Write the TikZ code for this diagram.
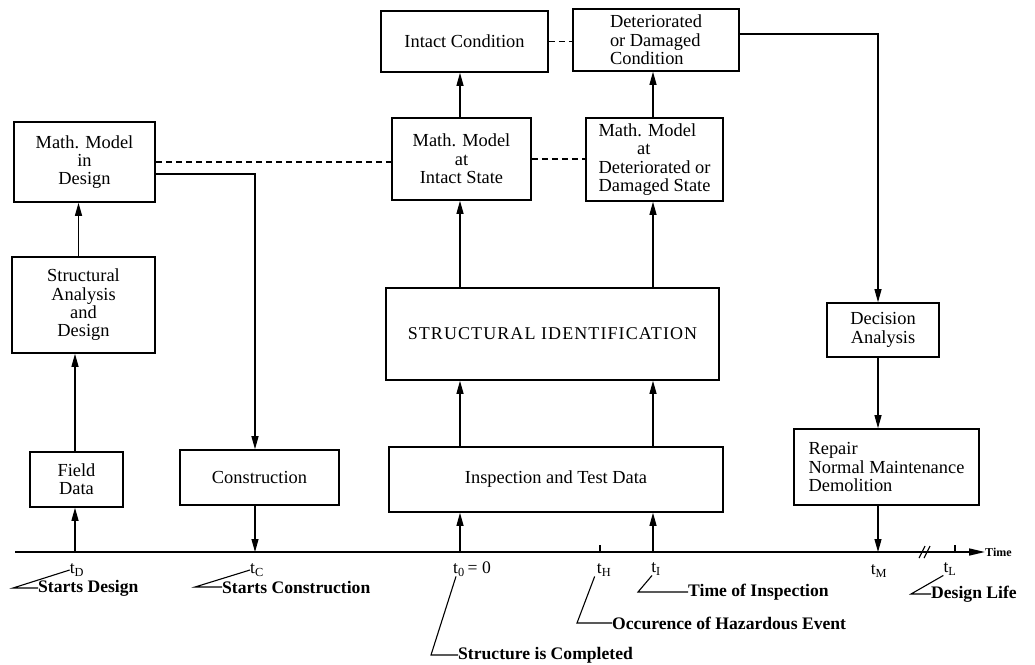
\documentclass[tikz,border=0pt]{standalone}
\usepackage{fontspec}
\setmainfont{Liberation Serif}
\usetikzlibrary{arrows.meta}

\begin{document}
\begin{tikzpicture}[x=1pt,y=-1pt,
    box/.style={draw, line width=1.6pt, inner sep=0pt, align=center,
      font=\fontsize{18.4}{18.3}\selectfont},
    arr/.style={line width=1.1pt, -{Triangle[length=13pt,width=7pt]}},
    link/.style={line width=1.1pt},
    dashlink/.style={line width=1.1pt, dash pattern=on 6pt off 4pt},
    lab/.style={inner sep=0pt, anchor=west, font=\fontsize{17.6}{18}\selectfont\bfseries},
    tlab/.style={inner sep=0pt, font=\fontsize{17.6}{18}\selectfont}]
  \def\axisy{552}

  \useasboundingbox (0,0) rectangle (1035,664);

  % boxes
  \node[box, minimum width=141pt, minimum height=80pt] (mdesign) at (84.5,162) {Math. Model\\in\\Design};
  \node[box, minimum width=143pt, minimum height=96pt] (sad) at (83.5,305) {Structural\\Analysis\\and\\Design};
  \node[box, minimum width=93pt, minimum height=55pt] (field) at (76.5,479.5) {Field\\Data};
  \node[box, minimum width=159pt, minimum height=55pt] (constr) at (259.5,477.5) {Construction};
  \node[box, minimum width=334pt, minimum height=65pt] (insp) at (556,479.5) {Inspection and Test Data};
  \node[box, minimum width=333pt, minimum height=92pt,
        font=\fontsize{18}{18}\selectfont\addfontfeature{LetterSpace=6}] (sid) at (552.5,334) {STRUCTURAL IDENTIFICATION};
  \node[box, minimum width=139pt, minimum height=82pt] (mintact) at (461.5,159) {Math. Model\\at\\Intact State};
  \node[box, minimum width=167pt, minimum height=61pt] (cintact) at (464.5,41.5) {Intact Condition};
  \node[box, minimum width=166pt, minimum height=62pt, align=left] (cdet) at (656,40) {Deteriorated\\or Damaged\\Condition};
  \node[box, minimum width=137pt, minimum height=83pt, align=left] (mdet) at (654.5,159.5) {Math. Model\\\hspace*{2.1em}at\\Deteriorated or\\Damaged State};
  \node[box, minimum width=112pt, minimum height=54pt] (decision) at (883,330) {Decision\\Analysis};
  \node[box, minimum width=185pt, minimum height=76pt, align=left] (repair) at (886.5,467) {Repair\\Normal Maintenance\\Demolition};

  % time axis
  \coordinate (origin) at (15,\axisy);
  \coordinate (tend) at (985,\axisy);
  \coordinate (pD) at (75,\axisy);
  \coordinate (pC) at (255,\axisy);
  \coordinate (p0) at (460,\axisy);
  \coordinate (pH) at (600,\axisy);
  \coordinate (pI) at (653,\axisy);
  \coordinate (pM) at (878,\axisy);
  \coordinate (pL) at (955,\axisy);
  \draw[line width=1.6pt, -{Triangle[length=16pt,width=7pt]}] (origin) -- (tend);
  \node[lab, font=\fontsize{12}{12}\selectfont\bfseries] (timelab) at (tend) {Time};
  \draw[link] (919,558) -- (925,546) (924,558) -- (930,546);
  \foreach \p in {pH,pL}
    \draw[link] (\p) -- ([yshift=7pt]\p);

  % arrows
  \draw[arr] (pD) -- (field.south -| pD);
  \draw[arr] (field.north -| pD) -- (sad.south -| pD);
  \draw[arr] ([xshift=-5pt]sad.north) -- ([xshift=-5pt]sad.north |- mdesign.south);
  \draw[arr] ([yshift=-12pt]mdesign.east) -| (constr.north -| pC);
  \draw[arr] (constr.south -| pC) -- (pC);
  \draw[dashlink] (mdesign.east) -- (mdesign.east -| mintact.west);
  \draw[dashlink] (mintact.east) -- (mintact.east -| mdet.west);
  \draw[dashlink] (cintact.east) -- (cintact.east -| cdet.west);
  \draw[arr] (p0) -- (insp.south -| p0);
  \draw[arr] (pI) -- (insp.south -| pI);
  \draw[arr] (insp.north -| p0) -- (sid.south -| p0);
  \draw[arr] (insp.north -| pI) -- (sid.south -| pI);
  \draw[arr] (sid.north -| p0) -- (mintact.south -| p0);
  \draw[arr] (sid.north -| pI) -- (mdet.south -| pI);
  \draw[arr] (mintact.north -| p0) -- (cintact.south -| p0);
  \draw[arr] (mdet.north -| pI) -- (cdet.south -| pI);
  \draw[arr] ([yshift=6pt]cdet.east) -| (decision.north -| pM);
  \draw[arr] (decision.south -| pM) -- (repair.north -| pM);
  \draw[arr] (repair.south -| pM) -- (pM);

  % time labels
  \node[tlab] (tD) at (77,570) {t\textsubscript{D}};
  \node[tlab] (tC) at (257,570) {t\textsubscript{C}};
  \node[tlab] (t0) at (472,569) {t\textsubscript{0}\,= 0};
  \node[tlab] (tH) at (604,570) {t\textsubscript{H}};
  \node[tlab] (tI) at (656,569) {t\textsubscript{I}};
  \node[tlab] (tM) at (879,571) {t\textsubscript{M}};
  \node[tlab] (tL) at (950,569) {t\textsubscript{L}};

  \node[lab] (sdes) at (38,588) {Starts Design};
  \node[lab] (scon) at (222,587) {Starts Construction};
  \node[lab] (scomp) at (458,655) {Structure is Completed};
  \node[lab] (haz) at (612,623) {Occurence of Hazardous Event};
  \node[lab] (insptime) at (688,592) {Time of Inspection};
  \node[lab] (dlife) at (931,594) {Design Life};

  \draw[link] (tD.west) -- ([xshift=-25pt]sdes.west) -- (sdes.west);
  \draw[link] (tC.west) -- ([xshift=-27pt]scon.west) -- (scon.west);
  \draw[link] ([xshift=3pt]t0.south west) -- ([xshift=-27pt]scomp.west) -- (scomp.west);
  \draw[link] ([xshift=-2pt]tH.south west) -- ([xshift=-35pt]haz.west) -- (haz.west);
  \draw[link] ([xshift=1pt]tI.south west) -- ([xshift=-50pt]insptime.west) -- (insptime.west);
  \draw[link] (tL.south west) -- ([xshift=-20pt]dlife.west) -- (dlife.west);
\end{tikzpicture}
\end{document}
